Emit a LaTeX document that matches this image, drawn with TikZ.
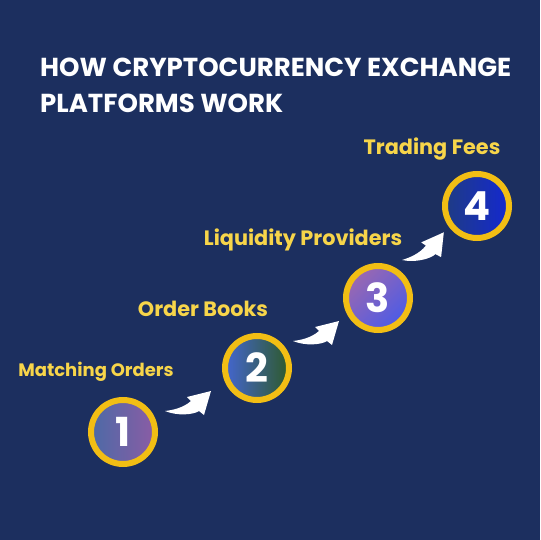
\documentclass[tikz,border=0pt]{standalone}
\usepackage{fontspec}
\setmainfont{Poppins}
\definecolor{bg}{HTML}{1C2F5F}
\definecolor{ring}{HTML}{F2BE14}
\definecolor{lab}{HTML}{F7D54A}
\definecolor{c1a}{HTML}{4C6AA6}
\definecolor{c1b}{HTML}{8B5CA5}
\definecolor{c2a}{HTML}{4466D0}
\definecolor{c2b}{HTML}{2E5A2A}
\definecolor{c3a}{HTML}{9B68B0}
\definecolor{c3b}{HTML}{4C5BE6}
\definecolor{c4a}{HTML}{1F3C84}
\definecolor{c4b}{HTML}{1428D0}
\begin{document}
\begin{tikzpicture}[x=1pt,y=-1pt,
  titletxt/.style={anchor=base west,inner sep=0pt,text=white,font=\fontsize{26}{30}\selectfont\bfseries},
  labtxt/.style={anchor=base,inner sep=0pt,text=lab,font=\fontsize{20.8}{24}\selectfont\bfseries},
  smalllab/.style={labtxt,font=\fontsize{18}{21}\selectfont\bfseries},
  numtxt/.style={inner sep=0pt,text=white,font=\fontsize{40}{44}\selectfont\bfseries},
  ringline/.style={draw=ring,line width=6pt},
  swoosh/.style={fill=white,draw=none}]
\fill[bg] (0,0) rectangle (540,540);
\useasboundingbox (0,0) rectangle (540,540);
% title
\node[titletxt] (t1) at (40,77) {HOW CRYPTOCURRENCY EXCHANGE};
\node[titletxt] (t2) at (40,113) {PLATFORMS WORK};
% circles
\shade[left color=c1a,right color=c1b] (123,432) circle (32);
\draw[ringline] (123,432) circle (32);
\node[numtxt] (n1) at (123,432) {1};
\shade[left color=c2a,right color=c2b] (257,368) circle (32);
\draw[ringline] (257,368) circle (32);
\node[numtxt] (n2) at (257,368) {2};
\shade[top color=c3a,bottom color=c3b,shading angle=45] (378,298) circle (32);
\draw[ringline] (378,298) circle (32);
\node[numtxt] (n3) at (378,298) {3};
\shade[left color=c4a,right color=c4b] (477,206) circle (32);
\draw[ringline] (477,206) circle (32);
\node[numtxt] (n4) at (477,206) {4};
% labels
\node[smalllab] (l1) at (96,376) {Matching Orders};
\node[labtxt] (l2) at (203,316) {Order Books};
\node[labtxt] (l3) at (303,245) {Liquidity Providers};
\node[labtxt] (l4) at (432,155) {Trading Fees};
% arrows
\foreach \px/\py/\rot in {165/411/0, 293/341/0, 402/260/10}{
\begin{scope}[shift={(\px,\py)},rotate=\rot]
\fill[swoosh] (0,0) .. controls (12,5) and (28,4) .. (34,0)
  -- (39,4) -- (46,-20) -- (22,-14) -- (26,-10)
  .. controls (18,-3) and (8,-1) .. (0,0) -- cycle;
\end{scope}}
\end{tikzpicture}
\end{document}
